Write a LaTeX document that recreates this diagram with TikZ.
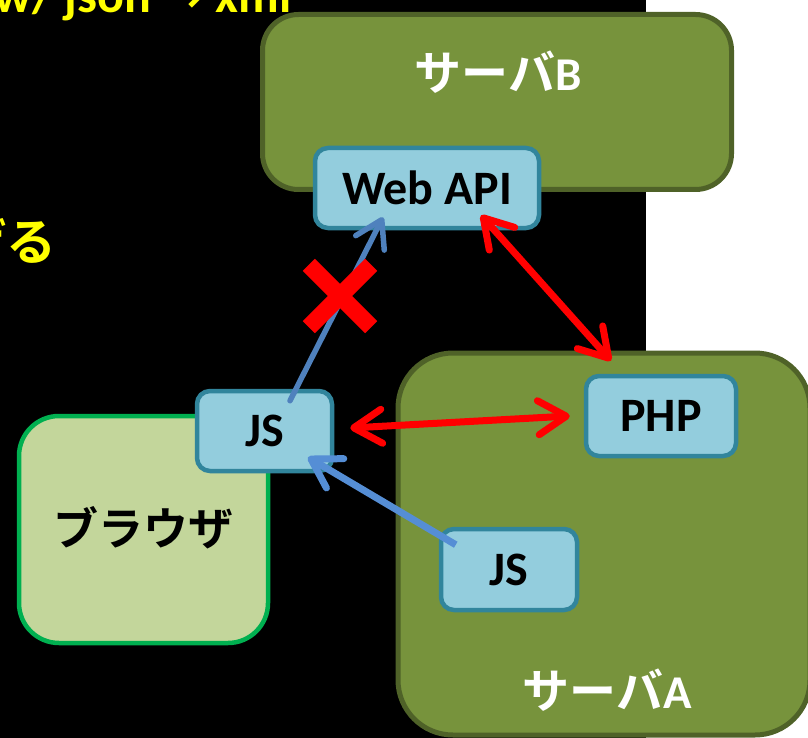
\documentclass[tikz,border=0pt]{standalone}
\usepackage{fontspec}
\setmainfont{Carlito}
\newfontfamily\jp{Noto Sans CJK JP}[BoldFont={Noto Sans CJK JP Bold}]
\newfontfamily\sym{DejaVu Sans}
\usetikzlibrary{arrows.meta}
\definecolor{srvfill}{HTML}{77933C}
\definecolor{srvline}{HTML}{4F6228}
\definecolor{lbfill}{HTML}{93CDDD}
\definecolor{lbline}{HTML}{31859C}
\definecolor{brfill}{HTML}{C3D69B}
\definecolor{brline}{HTML}{00B050}
\definecolor{blueA}{HTML}{4F81BD}
\definecolor{blueB}{HTML}{558ED5}
\definecolor{yel}{HTML}{FFFF00}
\tikzset{
  server/.style={draw=srvline, fill=srvfill, line width=5pt, rectangle, inner sep=0pt},
  smallbox/.style={draw=lbline, fill=lbfill, line width=4.5pt, rectangle, rounded corners=13pt, inner sep=0pt, font=\bfseries\fontsize{48}{52}\selectfont},
  srvlabel/.style={text=white, inner sep=0pt, font=\bfseries\fontsize{47}{50}\selectfont},
  redarrow/.style={draw=red, line width=7pt, line cap=round, {Straight Barb[length=28pt,width=34pt,round]}-{Straight Barb[length=28pt,width=34pt,round]}},
  bluearrowA/.style={draw=blueA, line width=5.5pt, line cap=round, -{Straight Barb[length=26pt,width=32pt,round]}},
  bluearrowB/.style={draw=blueB, line width=7pt, line cap=butt, -{Straight Barb[length=28pt,width=34pt,round]}},
  crossline/.style={draw=red, line width=17pt},
  yeltext/.style={text=yel, inner sep=0pt, font=\bfseries\fontsize{50}{54}\selectfont}
}
\begin{document}
\begin{tikzpicture}[x=1pt,y=-1pt]
\useasboundingbox (0,0) rectangle (808,738);
\clip (0,0) rectangle (808,738);
\fill[white] (0,0) rectangle (808,738);
\fill[black] (0,0) rectangle (646,738);
% partial yellow texts
\node[yeltext, anchor=base east] (ttop) at (292,13) {w/ json {\sym→} xml};
\node[yeltext, anchor=east] (tleft) at (57,242) {\jp つなげる};
% server B
\node[server, rounded corners=36pt, minimum width=469pt, minimum height=175pt] (srvB) at (497,102) {};
\node[srvlabel] (labB) at (498,72) {{\jp サーバ}B};
\node[smallbox, minimum width=224pt, minimum height=80pt] (webapi) at (427,188) {Web API};
% server A
\node[server, rounded corners=55pt, minimum width=412pt, minimum height=382pt] (srvA) at (604,544) {};
\node[srvlabel] (labA) at (607,690) {{\jp サーバ}A};
% browser
\node[draw=brline, fill=brfill, line width=4.5pt, rectangle, rounded corners=40pt, minimum width=249pt, minimum height=227pt, inner sep=0pt] (browser) at (143.5,529.5) {};
\node[inner sep=0pt, font=\jp\bfseries\fontsize{45}{48}\selectfont] (brlab) at (143,528) {ブラウザ};
\node[smallbox, minimum width=135pt, minimum height=80pt] (jsb) at (264.5,431) {JS};
\node[smallbox, minimum width=150pt, minimum height=80pt] (php) at (661,416) {PHP};
\node[smallbox, minimum width=136pt, minimum height=81pt] (jsa) at (509,569.5) {JS};
% arrows
\draw[redarrow] ([shift={(16,-3)}]jsb.east) -- ([shift={(-14,0)}]php.west);
\draw[redarrow] ([shift={(54,-15)}]webapi.south) -- ([shift={(-50,-13)}]php.north);
\draw[bluearrowA] ([shift={(25.5,12)}]jsb.north) -- ([shift={(-44,-13)}]webapi.south);
\draw[bluearrowB] ([shift={(17,18)}]jsa.north west) -- ([shift={(43.5,-16)}]jsb.south);
% cross
\node[inner sep=0pt, minimum size=62pt] (cross) at (340,296) {};
\draw[crossline] (cross.north west) -- (cross.south east);
\draw[crossline] (cross.north east) -- (cross.south west);
\end{tikzpicture}
\end{document}
